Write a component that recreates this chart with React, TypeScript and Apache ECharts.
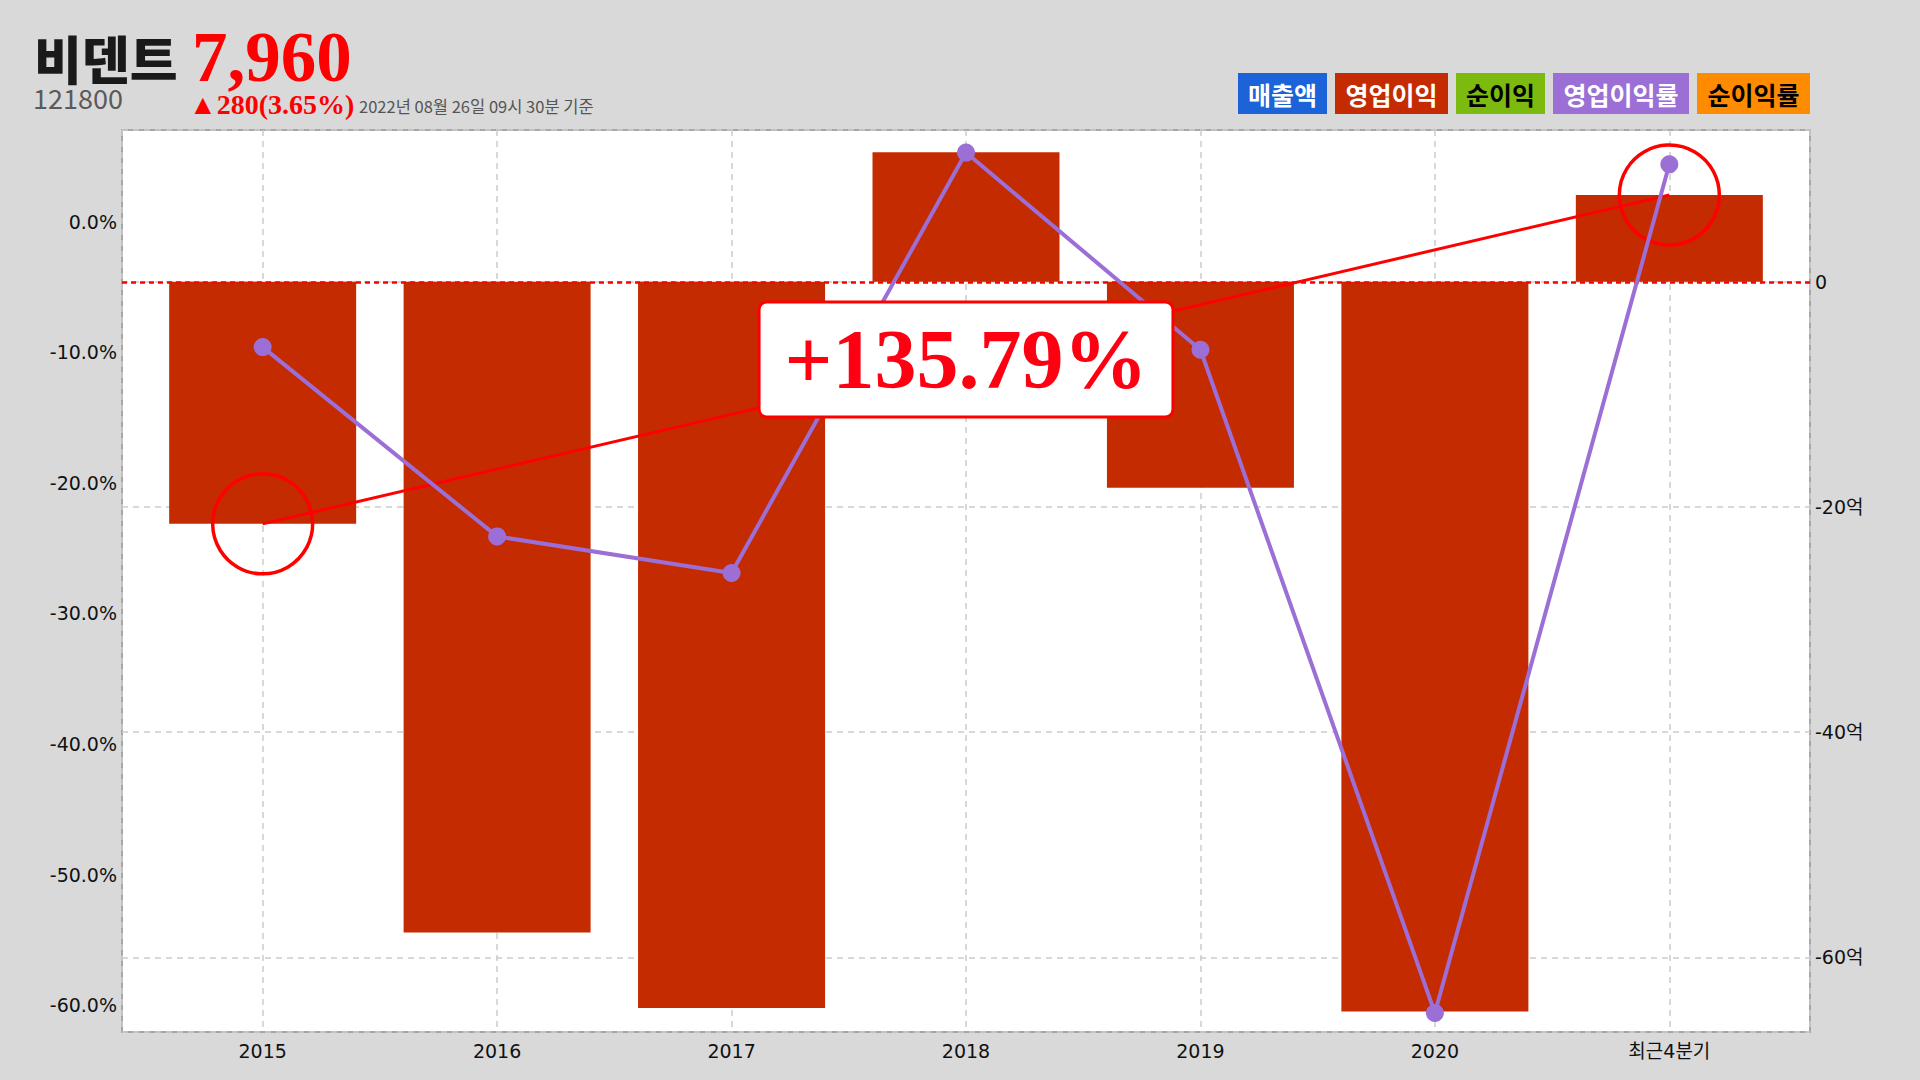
import React, { useEffect, useRef } from "react";
import * as echarts from "echarts";

// ---- data ----
const categories = ["2015", "2016", "2017", "2018", "2019", "2020", "최근4분기"];
const operatingProfit = [-21.5, -57.8, -64.5, 11.5, -18.3, -64.8, 7.7]; // 억원 (right axis)
const operatingMargin = [-9.6, -24.1, -26.9, 5.3, -9.8, -60.6, 4.4]; // % (left axis)
const categoryAxisRange = [-0.6, 6.6];
const marginAxisRange = [-62.06, 7.03];
const profitAxisRange = [-66.63, 13.48];
const growthLabel = "+135.79%";

const stockName = "비덴트";
const stockPrice = "7,960";
const stockCode = "121800";
const stockChange = "▲280(3.65%)";
const stockDate = "2022년 08월 26일 09시 30분 기준";

const legendNames = ["매출액", "영업이익", "순이익", "영업이익률", "순이익률"];

// ---- styles ----
const legendFill = ["#1c62d8", "#c42b00", "#7dba10", "#9b6fd5", "#ff8c00"];
const legendText = ["#ffffff", "#ffffff", "#000000", "#ffffff", "#000000"];
const legendX = [1238, 1335, 1456, 1553, 1697];
const legendW = [89, 113, 89, 136, 113];

const BAR = "#c42b00";
const PURPLE = "#9b6fd5";
const RED = "#ff0000";
const SANS = "DejaVu Sans, 'Noto Sans CJK KR', sans-serif";
const KR = "'Noto Sans CJK KR', sans-serif";
const SERIF = "'Liberation Serif', serif";

export default function App() {
  const ref = useRef<HTMLDivElement>(null);

  useEffect(() => {
    if (!ref.current) return;
    const chart = echarts.init(ref.current, null, { renderer: "svg" });

    const lastIdx = categories.length - 1;
    const first = operatingProfit[0];
    const last = operatingProfit[lastIdx];
    const mid = (first + last) / 2;

    const barData = operatingProfit.map((v, i) => [i, v]);
    const lineData = operatingMargin.map((v, i) => [i, v]);

    const legendGraphics = legendNames.map((name, i) => ({
      type: "group",
      children: [
        {
          type: "rect",
          shape: { x: legendX[i], y: 73, width: legendW[i], height: 41 },
          style: { fill: legendFill[i] },
        },
        {
          type: "text",
          x: legendX[i] + legendW[i] / 2,
          y: 93.5,
          style: {
            text: name,
            fill: legendText[i],
            font: `bold 25px ${KR}`,
            lineHeight: 30,
            textAlign: "center",
            textVerticalAlign: "middle",
          },
        },
      ],
    }));

    chart.setOption({
      animation: false,
      backgroundColor: "#d9d9d9",
      grid: {
        left: 122,
        top: 130,
        width: 1688,
        height: 902,
        show: true,
        backgroundColor: "#ffffff",
        borderColor: "#a6a6a6",
        borderWidth: 2,
        containLabel: false,
      },
      graphic: [
        {
          type: "text",
          x: 34,
          y: 57,
          style: {
            text: stockName,
            fill: "#1a1a1a",
            font: `900 52px ${KR}`,
            lineHeight: 50,
            textVerticalAlign: "middle",
          },
        },
        {
          type: "text",
          x: 192,
          y: 57,
          style: {
            text: stockPrice,
            fill: "#ff0000",
            font: `bold 71px ${SERIF}`,
            lineHeight: 54,
            textVerticalAlign: "middle",
          },
        },
        {
          type: "text",
          x: 33,
          y: 97,
          style: {
            text: stockCode,
            fill: "#5a5a5a",
            font: `27px ${KR}`,
            lineHeight: 22,
            textVerticalAlign: "middle",
          },
        },
        {
          type: "text",
          x: 189,
          y: 104,
          style: {
            text: stockChange,
            fill: "#ff0000",
            font: `bold 28px ${SERIF}`,
            lineHeight: 22,
            textVerticalAlign: "middle",
          },
        },
        {
          type: "text",
          x: 359,
          y: 106,
          style: {
            text: stockDate,
            fill: "#555555",
            font: `16.5px ${KR}`,
            lineHeight: 16,
            textVerticalAlign: "middle",
          },
        },
        ...legendGraphics,
      ],
      xAxis: {
        type: "value",
        min: categoryAxisRange[0],
        max: categoryAxisRange[1],
        splitNumber: 7,
        axisLine: { show: false },
        axisTick: { show: false },
        axisLabel: {
          color: "#111",
          fontFamily: SANS,
          fontSize: 19,
          margin: 9,
          showMinLabel: false,
          showMaxLabel: false,
          formatter: (v: number) =>
            Number.isInteger(v) && categories[v] !== undefined ? categories[v] : "",
        },
        splitLine: {
          show: true,
          lineStyle: { color: "#cccccc", type: [6, 5], width: 1.5 },
        },
      },
      yAxis: [
        {
          type: "value",
          position: "left",
          min: marginAxisRange[0],
          max: marginAxisRange[1],
          splitNumber: 6,
          axisLine: { show: false },
          axisTick: { show: false },
          splitLine: { show: false },
          axisLabel: {
            color: "#111",
            fontFamily: SANS,
            fontSize: 19,
            margin: 5,
            showMinLabel: false,
            showMaxLabel: false,
            formatter: (v: number) => `${v.toFixed(1)}%`,
          },
        },
        {
          type: "value",
          position: "right",
          min: profitAxisRange[0],
          max: profitAxisRange[1],
          splitNumber: 4,
          axisLine: { show: false },
          axisTick: { show: false },
          splitLine: {
            show: true,
            lineStyle: { color: "#cccccc", type: [6, 5], width: 1.5 },
          },
          axisLabel: {
            color: "#111",
            fontFamily: SANS,
            fontSize: 19,
            margin: 5,
            showMinLabel: false,
            showMaxLabel: false,
            formatter: (v: number) => (v === 0 ? "0" : `${v}억`),
          },
        },
      ],
      series: [
        {
          name: "영업이익",
          type: "bar",
          yAxisIndex: 1,
          data: barData,
          barWidth: 187,
          itemStyle: { color: BAR },
          z: 2,
          markLine: {
            silent: true,
            z: 3,
            symbol: ["none", "none"],
            label: { show: false },
            data: [
              {
                yAxis: 0,
                lineStyle: { color: RED, type: [5, 4], width: 2.5 },
              },
              [
                {
                  coord: [0, first],
                  lineStyle: { color: RED, type: "solid", width: 3 },
                },
                { coord: [lastIdx, last] },
              ],
            ],
          },
          markPoint: {
            silent: true,
            z: 3,
            symbol: "circle",
            symbolSize: 100,
            itemStyle: { color: "rgba(0,0,0,0)", borderColor: RED, borderWidth: 3.5 },
            label: { show: false },
            data: [{ coord: [0, first] }, { coord: [lastIdx, last] }],
          },
        },
        {
          name: "영업이익률",
          type: "line",
          yAxisIndex: 0,
          data: lineData,
          z: 4,
          symbol: "circle",
          symbolSize: 18,
          lineStyle: { color: PURPLE, width: 4 },
          itemStyle: { color: PURPLE },
        },
        {
          name: "growth",
          type: "scatter",
          yAxisIndex: 1,
          z: 10,
          symbol: "rect",
          symbolSize: 2,
          itemStyle: { color: "rgba(0,0,0,0)", opacity: 1 },
          data: [[(0 + lastIdx) / 2, mid]],
          label: {
            show: true,
            position: "inside",
            formatter: growthLabel,
            color: "#ff0012",
            opacity: 1,
            fontFamily: SERIF,
            fontWeight: "bold",
            fontSize: 84,
            lineHeight: 86,
            backgroundColor: "#ffffff",
            borderColor: RED,
            borderWidth: 3,
            borderRadius: 6,
            padding: [13, 24, 13, 24],
          },
        },
      ],
    });

    return () => chart.dispose();
  }, []);

  return (
    <div
      ref={ref}
      style={{ position: "absolute", left: 0, top: 0, width: 1920, height: 1080 }}
    />
  );
}
